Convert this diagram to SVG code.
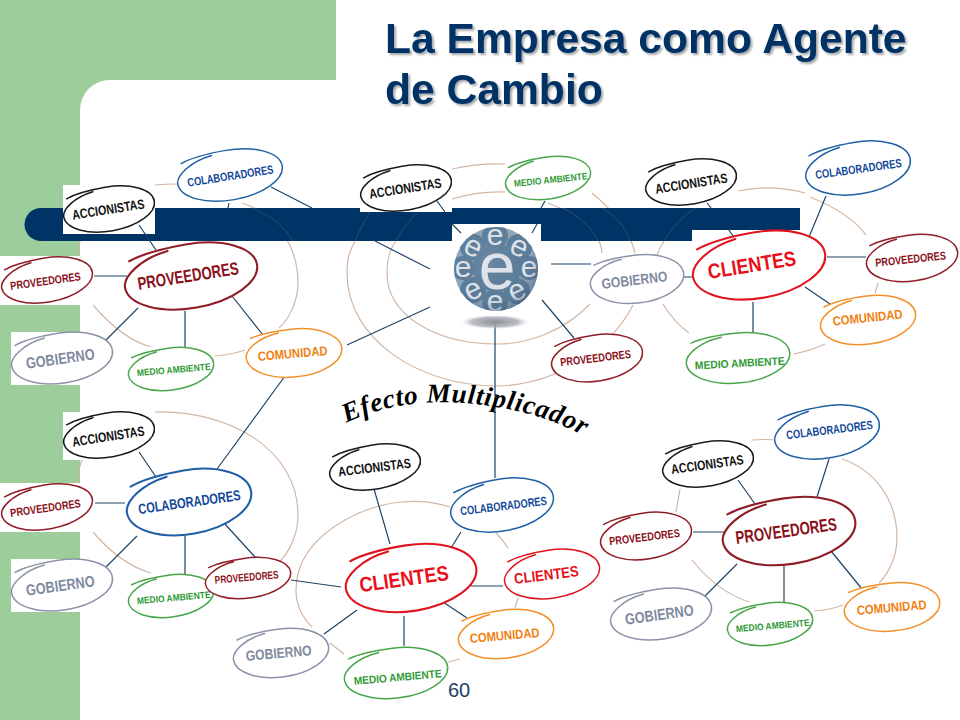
<svg xmlns="http://www.w3.org/2000/svg" xmlns:xlink="http://www.w3.org/1999/xlink" width="960" height="720" viewBox="0 0 960 720">
<style>
text{font-family:"Liberation Sans",Arial,sans-serif}
.title{font-size:42.6px;font-weight:700;fill:#003366}
.num{font-size:20px;fill:#1f3f66}
.arc{fill:none;stroke:#d3b7a4;stroke-width:1.2}
.faint{fill:none;stroke:#8a7f78;stroke-width:1;opacity:.35}
.con{fill:none;stroke:#1f4468;stroke-width:1.2}
.wb{fill:#fff}
.s{fill:#fff;stroke-width:1.5;stroke-linecap:round}
.b{stroke-width:2.1}
.lb{text-anchor:middle;font-weight:700;stroke-width:.2}
.k{stroke:#1a1a1a}.u{stroke:#1f5fa6}.d{stroke:#8f1d27}.g{stroke:#8b93a9}.m{stroke:#4aa64a}.o{stroke:#f39029}.r{stroke:#e0141f}
.tk{fill:#111}.tu{fill:#12479a}.td{fill:#8a0f18}.tg{fill:#808a9e}.tm{fill:#2f9a35}.to{fill:#f07f12}.tr{fill:#e8101a}
.fx{font-family:"Liberation Serif",serif;font-size:27px;font-weight:700;font-style:italic;fill:#000;letter-spacing:.7px}
.eb{fill:#dfe4e9;text-anchor:middle;font-weight:400}
.tile{fill:#5c7d9a}
</style>
<defs>
<path id="n" vector-effect="non-scaling-stroke" d="M-28 -90C-70 -80 -100 -35 -100 0C-100 55 -55 100 0 100C55 100 100 55 100 0C100 -55 55 -100 0 -100C-35 -100 -65 -95 -87 -79"/>
<path id="fxp" fill="none" d="M346 423C390 402 440 398 490 406C525 411 560 421 592 441"/>
<clipPath id="sphere"><circle cx="496" cy="269" r="42"/></clipPath>
<filter id="sh" x="-5%" y="-10%" width="110%" height="130%"><feDropShadow dx="2" dy="2" stdDeviation="1.2" flood-color="#000" flood-opacity=".35"/></filter>
<radialGradient id="sp" cx=".42" cy=".38" r=".68"><stop offset="0" stop-color="#fff" stop-opacity=".1"/><stop offset=".7" stop-color="#4c6a85" stop-opacity="0"/><stop offset="1" stop-color="#2c4a66" stop-opacity=".55"/></radialGradient>
<radialGradient id="shd"><stop offset="0" stop-color="#8a8f96"/><stop offset=".7" stop-color="#a9adb3" stop-opacity=".8"/><stop offset="1" stop-color="#d8dadc" stop-opacity="0"/></radialGradient>
</defs>

<g id="background">
<rect width="960" height="720" fill="#fff"/>
<path fill="#9ccd9a" d="M0 0H336V80H110A30 30 0 0 0 80 110V720H0Z"/>
</g>

<g id="rings">
<path class="arc" d="M155 185Q165 184 177 184M242 203C280 215 298 250 298 283C298 300 290 318 279 328M93 305C110 325 130 341 151 347M215 356Q230 355 245 350M77 256Q78 250 80 241"/>
<path class="arc" d="M452 169Q478 163 505 164M592 193C615 212 630 232 635 253M633 305C610 350 555 385 497 386C420 386 347 340 347 273C347 258 350 250 355 241"/>
<path class="arc" d="M452 199Q478 191 505 192M548 203C580 215 602 235 602 253M590 304C565 330 530 344 497 344C435 344 387 315 387 273C387 262 389 250 396 241"/>
<path class="arc" d="M738 191Q770 184 805 193M810 197C835 207 855 220 866 235M878 283L875 293M793 354Q810 351 825 344M663 304Q673 321 689 333M657 255Q660 247 664 241"/>
<path class="arc" d="M155 412C230 410 298 450 298 515C298 540 285 560 268 572M93 532C110 552 130 567 151 573M77 483Q78 470 82 460"/>
<path class="arc" d="M450 507C420 497 380 500 345 520C310 540 296 565 296 590C296 605 303 618 312 627M496 533Q503 540 508 548M330 643L344 654M448 662L460 659M518 598L515 608"/>
<path class="arc" d="M752 440Q765 439 776 440M842 459C875 470 897 500 897 538C897 555 890 572 879 583M680 489L676 512M692 560C708 580 728 595 749 602M814 611Q830 610 843 605"/>
</g>

<g id="bar">
<path fill="#003366" d="M41 208H800V241H41A16.500 16.500 0 0 1 41 208Z"/>
<path class="faint" d="M355 241C360 228 368 216 372 208M396 241C402 230 410 220 420 208M664 241C672 228 682 215 697 208M252 208C272 216 286 228 293 241M602 208C616 216 626 228 630 241M562 208C580 216 592 228 598 241"/>
<rect class="wb" x="63" y="185" width="92" height="49"/>
<rect class="wb" x="0" y="256" width="93" height="49"/>
<rect class="wb" x="11" y="332" width="101" height="53"/>
<rect class="wb" x="63" y="412" width="92" height="48"/>
<rect class="wb" x="0" y="483" width="93" height="49"/>
<rect class="wb" x="11" y="559" width="101" height="53"/>
<rect class="wb" x="360" y="165" width="92" height="47"/>
<rect class="wb" x="452" y="224" width="89" height="17"/>
<rect class="wb" x="692" y="230" width="108" height="11"/>
</g>

<g id="connectors" class="con">
<path class="con" d="M139 225L156 250M94 276H127M138 308L106 340M185 311V347M232 296L263 335M271 187L312 208M229 203L228 208M285 376L217 469M347 345L430 307"/>
<path class="con" d="M437 201L445 212M545 201L541 208M452 224L461 233M537 224L532 233M375 241L430 269M551 264H591M542 300L574 338M495 322V478"/>
<path class="con" d="M707 203L711 208M728 229L734 237M826 196L809 237M827 257H866M805 287L830 304M753 302V334M684 277H692"/>
<path class="con" d="M139 452L156 477M95 503H125M137 536L106 567M185 536V574M224 523L255 557"/>
<path class="con" d="M374 489L390 544M461 532L451 548M291 580L341 587M471 586H503M443 602L467 618M404 616V646M357 610L324 634"/>
<path class="con" d="M738 480L755 504M829 459L817 497M693 532H726M737 564L705 596M784 566V602M831 551L862 589"/>
</g>

<g id="title" filter="url(#sh)">
<text class="title" x="385" y="53">La Empresa como Agente</text>
<text class="title" x="385" y="104">de Cambio</text>
</g>
<text class="num" x="448" y="697">60</text>

<g id="globe">
<ellipse cx="495" cy="322" rx="34" ry="7" fill="url(#shd)"/>
<g clip-path="url(#sphere)">
<circle cx="496" cy="269" r="42" fill="#8fa6ba"/>
<g class="tile"><circle cx="497" cy="268" r="24"/><circle cx="495" cy="236" r="13"/><circle cx="473" cy="247" r="13"/><circle cx="463" cy="268" r="12"/><circle cx="473" cy="290" r="13"/><circle cx="495" cy="302" r="13"/><circle cx="517" cy="291" r="13"/><circle cx="529" cy="268" r="12"/><circle cx="519" cy="247" r="13"/></g>
<text class="eb" x="497" y="289" font-size="66">e</text>
<text class="eb" x="495" y="245" font-size="30">e</text>
<text class="eb" x="473" y="256" font-size="30" transform="rotate(25 473 247)">e</text>
<text class="eb" x="463" y="277" font-size="30">e</text>
<text class="eb" x="473" y="299" font-size="30" transform="rotate(-25 473 290)">e</text>
<text class="eb" x="495" y="311" font-size="30">e</text>
<text class="eb" x="517" y="300" font-size="30" transform="rotate(-25 517 291)">e</text>
<text class="eb" x="529" y="277" font-size="30">e</text>
<text class="eb" x="519" y="256" font-size="30" transform="rotate(25 519 247)">e</text>
</g>
<circle cx="496" cy="269" r="42" fill="url(#sp)"/>
</g>

<text class="fx"><textPath href="#fxp" xlink:href="#fxp">Efecto Multiplicador</textPath></text>

<g id="n1-acc"><use href="#n" class="s k" transform="translate(109 209) rotate(-10) scale(.46 .22)"/><text class="lb tk" font-size="13.500" textLength="73" lengthAdjust="spacingAndGlyphs" transform="translate(109 214) rotate(-9)">ACCIONISTAS</text></g>
<g id="n1-col"><use href="#n" class="s u" transform="translate(230 175) rotate(-10) scale(.53 .25)"/><text class="lb tu" font-size="12" textLength="87" lengthAdjust="spacingAndGlyphs" transform="translate(231 180) rotate(-9)">COLABORADORES</text></g>
<g id="n1-main"><use href="#n" class="s d b" transform="translate(191 276) rotate(-10) scale(.67 .32)"/><text class="lb td" font-size="18" textLength="102" lengthAdjust="spacingAndGlyphs" transform="translate(189 282) rotate(-9)">PROVEEDORES</text></g>
<g id="n1-pro"><use href="#n" class="s d" transform="translate(47 280) rotate(-10) scale(.46 .22)"/><text class="lb td" font-size="11.500" textLength="71" lengthAdjust="spacingAndGlyphs" transform="translate(46 285) rotate(-8)">PROVEEDORES</text></g>
<g id="n1-gob"><use href="#n" class="s g" transform="translate(62 358) rotate(-9) scale(.51 .25)"/><text class="lb tg" font-size="15.500" textLength="69" lengthAdjust="spacingAndGlyphs" transform="translate(61 364) rotate(-8)">GOBIERNO</text></g>
<g id="n1-med"><use href="#n" class="s m" transform="translate(171 369) rotate(-8) scale(.43 .21)"/><text class="lb tm" font-size="9.500" textLength="74" lengthAdjust="spacingAndGlyphs" transform="translate(174 373) rotate(-5)">MEDIO AMBIENTE</text></g>
<g id="n1-com"><use href="#n" class="s o" transform="translate(294 353) rotate(-6) scale(.48 .24)"/><text class="lb to" font-size="13" textLength="70" lengthAdjust="spacingAndGlyphs" transform="translate(293 358) rotate(-5)">COMUNIDAD</text></g>

<g id="n2-acc"><use href="#n" class="s k" transform="translate(406 188) rotate(-10) scale(.46 .22)"/><text class="lb tk" font-size="13.500" textLength="73" lengthAdjust="spacingAndGlyphs" transform="translate(406 193) rotate(-9)">ACCIONISTAS</text></g>
<g id="n2-med"><use href="#n" class="s m" transform="translate(548 178) rotate(-9) scale(.43 .21)"/><text class="lb tm" font-size="9.500" textLength="74" lengthAdjust="spacingAndGlyphs" transform="translate(551 183) rotate(-6)">MEDIO AMBIENTE</text></g>
<g id="n2-gob"><use href="#n" class="s g" transform="translate(637 279) rotate(-7) scale(.47 .24)"/><text class="lb tg" font-size="14.500" textLength="66" lengthAdjust="spacingAndGlyphs" transform="translate(635 285) rotate(-7)">GOBIERNO</text></g>
<g id="n2-pro"><use href="#n" class="s d" transform="translate(597 358) rotate(-9) scale(.46 .23)"/><text class="lb td" font-size="11.500" textLength="71" lengthAdjust="spacingAndGlyphs" transform="translate(596 362) rotate(-7)">PROVEEDORES</text></g>

<g id="n3-acc"><use href="#n" class="s k" transform="translate(691 182) rotate(-10) scale(.46 .22)"/><text class="lb tk" font-size="13.500" textLength="73" lengthAdjust="spacingAndGlyphs" transform="translate(692 188) rotate(-9)">ACCIONISTAS</text></g>
<g id="n3-col"><use href="#n" class="s u" transform="translate(858 168) rotate(-10) scale(.53 .26)"/><text class="lb tu" font-size="12" textLength="87" lengthAdjust="spacingAndGlyphs" transform="translate(859 173) rotate(-8)">COLABORADORES</text></g>
<g id="n3-main"><use href="#n" class="s r b" transform="translate(759 265) rotate(-10) scale(.67 .33)"/><text class="lb tr" font-size="21" textLength="89" lengthAdjust="spacingAndGlyphs" transform="translate(753 272) rotate(-9)">CLIENTES</text></g>
<g id="n3-pro"><use href="#n" class="s d" transform="translate(912 258) rotate(-8) scale(.46 .23)"/><text class="lb td" font-size="11.500" textLength="71" lengthAdjust="spacingAndGlyphs" transform="translate(911 263) rotate(-6)">PROVEEDORES</text></g>
<g id="n3-com"><use href="#n" class="s o" transform="translate(868 320) rotate(-8) scale(.48 .24)"/><text class="lb to" font-size="13" textLength="70" lengthAdjust="spacingAndGlyphs" transform="translate(868 322) rotate(-6)">COMUNIDAD</text></g>
<g id="n3-med"><use href="#n" class="s m" transform="translate(738 358) rotate(-6) scale(.52 .25)"/><text class="lb tm" font-size="11" textLength="90" lengthAdjust="spacingAndGlyphs" transform="translate(740 367) rotate(-3)">MEDIO AMBIENTE</text></g>

<g id="n4-acc"><use href="#n" class="s k" transform="translate(109 435) rotate(-10) scale(.46 .22)"/><text class="lb tk" font-size="13.500" textLength="73" lengthAdjust="spacingAndGlyphs" transform="translate(109 441) rotate(-9)">ACCIONISTAS</text></g>
<g id="n4-pro"><use href="#n" class="s d" transform="translate(47 507) rotate(-10) scale(.46 .22)"/><text class="lb td" font-size="11.500" textLength="71" lengthAdjust="spacingAndGlyphs" transform="translate(46 512) rotate(-8)">PROVEEDORES</text></g>
<g id="n4-main"><use href="#n" class="s u b" transform="translate(189 502) rotate(-10) scale(.63 .32)"/><text class="lb tu" font-size="14.500" textLength="103" lengthAdjust="spacingAndGlyphs" transform="translate(190 507) rotate(-8)">COLABORADORES</text></g>
<g id="n4-gob"><use href="#n" class="s g" transform="translate(62 585) rotate(-9) scale(.51 .25)"/><text class="lb tg" font-size="15.500" textLength="69" lengthAdjust="spacingAndGlyphs" transform="translate(61 591) rotate(-8)">GOBIERNO</text></g>
<g id="n4-med"><use href="#n" class="s m" transform="translate(171 596) rotate(-8) scale(.43 .21)"/><text class="lb tm" font-size="9.500" textLength="74" lengthAdjust="spacingAndGlyphs" transform="translate(174 601) rotate(-5)">MEDIO AMBIENTE</text></g>
<g id="n4-pro2"><use href="#n" class="s d" transform="translate(248 578) rotate(-8) scale(.43 .2)"/><text class="lb td" font-size="11" textLength="64" lengthAdjust="spacingAndGlyphs" transform="translate(247 581) rotate(-5)">PROVEEDORES</text></g>

<g id="n5-acc"><use href="#n" class="s k" transform="translate(375 467) rotate(-10) scale(.46 .22)"/><text class="lb tk" font-size="13.500" textLength="73" lengthAdjust="spacingAndGlyphs" transform="translate(375 472) rotate(-7)">ACCIONISTAS</text></g>
<g id="n5-col"><use href="#n" class="s u" transform="translate(502 505) rotate(-10) scale(.52 .26)"/><text class="lb tu" font-size="12" textLength="87" lengthAdjust="spacingAndGlyphs" transform="translate(504 510) rotate(-7)">COLABORADORES</text></g>
<g id="n5-main"><use href="#n" class="s r b" transform="translate(411 578) rotate(-9) scale(.66 .33)"/><text class="lb tr" font-size="21" textLength="90" lengthAdjust="spacingAndGlyphs" transform="translate(405 586) rotate(-8)">CLIENTES</text></g>
<g id="n5-cli"><use href="#n" class="s r" transform="translate(552 574) rotate(-9) scale(.48 .24)"/><text class="lb tr" font-size="15" textLength="65" lengthAdjust="spacingAndGlyphs" transform="translate(547 580) rotate(-7)">CLIENTES</text></g>
<g id="n5-com"><use href="#n" class="s o" transform="translate(506 634) rotate(-8) scale(.48 .24)"/><text class="lb to" font-size="13" textLength="70" lengthAdjust="spacingAndGlyphs" transform="translate(505 640) rotate(-5)">COMUNIDAD</text></g>
<g id="n5-med"><use href="#n" class="s m" transform="translate(396 673) rotate(-7) scale(.52 .25)"/><text class="lb tm" font-size="11" textLength="88" lengthAdjust="spacingAndGlyphs" transform="translate(398 681) rotate(-5)">MEDIO AMBIENTE</text></g>
<g id="n5-gob"><use href="#n" class="s g" transform="translate(281 653) rotate(-8) scale(.48 .24)"/><text class="lb tg" font-size="14.500" textLength="66" lengthAdjust="spacingAndGlyphs" transform="translate(279 658) rotate(-5)">GOBIERNO</text></g>

<g id="n6-acc"><use href="#n" class="s k" transform="translate(708 464) rotate(-10) scale(.46 .22)"/><text class="lb tk" font-size="13.500" textLength="73" lengthAdjust="spacingAndGlyphs" transform="translate(708 469) rotate(-8)">ACCIONISTAS</text></g>
<g id="n6-col"><use href="#n" class="s u" transform="translate(827 432) rotate(-10) scale(.53 .26)"/><text class="lb tu" font-size="12" textLength="87" lengthAdjust="spacingAndGlyphs" transform="translate(830 434) rotate(-7)">COLABORADORES</text></g>
<g id="n6-main"><use href="#n" class="s d b" transform="translate(789 531) rotate(-9) scale(.67 .33)"/><text class="lb td" font-size="18" textLength="102" lengthAdjust="spacingAndGlyphs" transform="translate(787 537) rotate(-8)">PROVEEDORES</text></g>
<g id="n6-pro"><use href="#n" class="s d" transform="translate(646 536) rotate(-9) scale(.46 .23)"/><text class="lb td" font-size="11.500" textLength="71" lengthAdjust="spacingAndGlyphs" transform="translate(645 541) rotate(-7)">PROVEEDORES</text></g>
<g id="n6-gob"><use href="#n" class="s g" transform="translate(661 614) rotate(-9) scale(.51 .25)"/><text class="lb tg" font-size="15.500" textLength="69" lengthAdjust="spacingAndGlyphs" transform="translate(660 620) rotate(-8)">GOBIERNO</text></g>
<g id="n6-med"><use href="#n" class="s m" transform="translate(770 624) rotate(-8) scale(.43 .21)"/><text class="lb tm" font-size="9.500" textLength="74" lengthAdjust="spacingAndGlyphs" transform="translate(773 629) rotate(-5)">MEDIO AMBIENTE</text></g>
<g id="n6-com"><use href="#n" class="s o" transform="translate(892 607) rotate(-6) scale(.48 .24)"/><text class="lb to" font-size="13" textLength="70" lengthAdjust="spacingAndGlyphs" transform="translate(892 612) rotate(-5)">COMUNIDAD</text></g>
</svg>
